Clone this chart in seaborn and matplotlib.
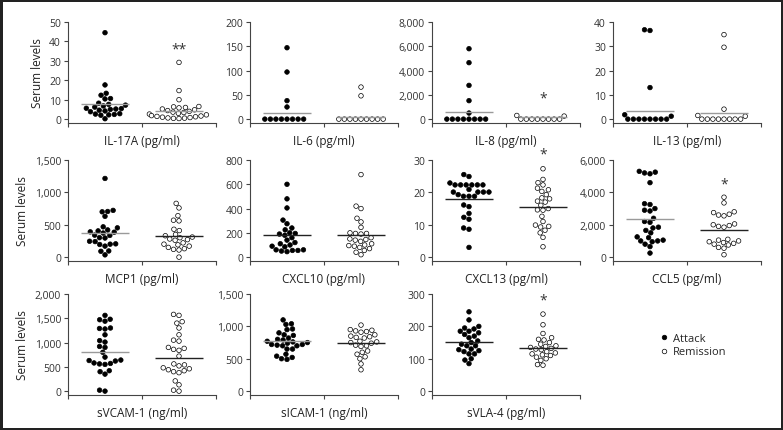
import warnings

warnings.filterwarnings("ignore")

import numpy as np
import pandas as pd
import seaborn as sns
import matplotlib

matplotlib.use("Agg")
import matplotlib.pyplot as plt
from matplotlib.lines import Line2D
from matplotlib.ticker import FuncFormatter, MultipleLocator

# ---- values ----
il17a_attack = [44.5, 17.6, 13.3, 12.3, 10.6, 10.4, 8.2, 7.6, 7.2, 6.8, 6.2, 5.6, 5.4,
                5.2, 5.0, 4.6, 4.2, 3.8, 2.8, 2.6, 2.4, 2.2, 2.0, 0.2]
il17a_remission = [29.2, 14.7, 10.0, 6.5, 6.3, 6.0, 5.8, 5.2, 4.8, 4.4, 4.0, 3.6, 3.4,
                   3.0, 2.6, 2.2, 1.8, 1.6, 1.4, 1.2, 1.0, 0.8, 0.6, 0.5, 0.4, 0.3]
il6_attack = [147, 97, 38, 25, 0, 0, 0, 0, 0, 0, 0, 0]
il6_remission = [66, 48, 0, 0, 0, 0, 0, 0, 0, 0, 0]
il8_attack = [5800, 4650, 2780, 1520, 500, 0, 0, 0, 0, 0, 0, 0, 0]
il8_remission = [300, 250, 0, 0, 0, 0, 0, 0, 0, 0]
il13_attack = [36.8, 36.5, 13.0, 1.8, 1.2, 0, 0, 0, 0, 0, 0, 0, 0]
il13_remission = [34.8, 29.6, 4.1, 1.5, 1.2, 0, 0, 0, 0, 0, 0, 0, 0]
mcp1_attack = [1215, 722, 705, 700, 630, 468, 452, 420, 405, 390, 385, 372, 340, 335,
               300, 295, 245, 240, 205, 200, 195, 170, 95, 90, 35]
mcp1_remission = [830, 760, 640, 570, 560, 430, 410, 350, 330, 310, 300, 280, 270, 260,
                  220, 200, 190, 170, 150, 130, 120, 110, 0]
cxcl10_attack = [600, 480, 405, 305, 275, 240, 225, 200, 195, 190, 180, 160, 140, 120,
                 110, 100, 90, 85, 60, 60, 55, 55, 50, 45]
cxcl10_remission = [680, 420, 400, 320, 290, 245, 200, 195, 195, 190, 160, 150, 145, 140,
                    130, 110, 100, 95, 90, 80, 70, 55, 40, 20]
cxcl13_attack = [25.5, 24.9, 22.9, 22.3, 22.3, 22.3, 22.3, 22.3, 22.3, 20.9, 20.1, 20.1,
                 20.1, 20.1, 19.3, 18.8, 18.8, 18.8, 16.1, 15.6, 13.5, 12.3, 11.7, 9.0,
                 8.6, 3.0]
cxcl13_remission = [27.3, 24.0, 23.0, 22.3, 21.3, 20.8, 20.3, 19.3, 18.3, 18.0, 17.3,
                    17.0, 16.0, 15.0, 14.6, 14.5, 12.6, 11.0, 9.9, 9.5, 9.3, 8.3, 7.5,
                    6.1, 3.2]
ccl5_attack = [5300, 5250, 5200, 5150, 4600, 3300, 3250, 3000, 2900, 2850, 2400, 2200,
               2150, 1850, 1800, 1650, 1500, 1250, 1200, 1050, 1000, 1000, 950, 800,
               650, 250]
ccl5_remission = [3700, 3350, 2800, 2750, 2650, 2600, 2550, 2050, 2000, 1950, 1900, 1850,
                  1100, 1050, 1000, 950, 900, 850, 800, 750, 600, 550, 150]
svcam_attack = [1560, 1480, 1470, 1440, 1300, 1290, 1280, 1160, 1040, 1010, 920, 900,
                800, 700, 640, 630, 620, 580, 570, 560, 550, 420, 400, 350, 20, 0]
svcam_remission = [1580, 1560, 1430, 1400, 1300, 1160, 1050, 1030, 900, 880, 860, 840,
                   720, 560, 540, 520, 480, 460, 440, 420, 400, 380, 210, 130, 20, 0]
sicam_attack = [1100, 1040, 1030, 960, 950, 900, 870, 860, 820, 800, 790, 770, 760, 750,
                740, 720, 720, 710, 700, 700, 650, 650, 570, 540, 520, 500, 490]
sicam_remission = [1020, 950, 940, 930, 920, 910, 870, 850, 840, 830, 820, 770, 760, 750,
                   740, 710, 700, 690, 620, 600, 570, 530, 500, 420, 330]
svla4_attack = [245, 220, 200, 195, 192, 185, 185, 180, 175, 170, 165, 155, 150, 145,
                140, 140, 130, 128, 125, 122, 115, 115, 100, 96, 85]
svla4_remission = [238, 205, 178, 165, 160, 158, 150, 145, 140, 138, 135, 132, 130, 128,
                   122, 118, 115, 112, 110, 105, 100, 95, 82, 80]

labels = ["IL-17A (pg/ml)", "IL-6 (pg/ml)", "IL-8 (pg/ml)", "IL-13 (pg/ml)",
          "MCP1 (pg/ml)", "CXCL10 (pg/ml)", "CXCL13 (pg/ml)", "CCL5 (pg/ml)",
          "sVCAM-1 (ng/ml)", "sICAM-1 (ng/ml)", "sVLA-4 (pg/ml)"]
attack = [il17a_attack, il6_attack, il8_attack, il13_attack, mcp1_attack, cxcl10_attack,
          cxcl13_attack, ccl5_attack, svcam_attack, sicam_attack, svla4_attack]
remission = [il17a_remission, il6_remission, il8_remission, il13_remission,
             mcp1_remission, cxcl10_remission, cxcl13_remission, ccl5_remission,
             svcam_remission, sicam_remission, svla4_remission]
attack_mean = [7.6, 12.2, 597, 3.25, 366, 182, 18.0, 2360, 800, 775, 151]
remission_mean = [4.2, 4.7, 190, 2.4, 320, 182, 15.4, 1668, 690, 750, 132]
y_max = [50, 200, 8000, 40, 1500, 800, 30, 6000, 2000, 1500, 300]
y_step = [10, 50, 2000, 10, 500, 200, 10, 2000, 500, 500, 100]
stars = {0: ("**", 36), 2: ("*", 1700), 6: ("*", 31.8), 7: ("*", 4500), 10: ("*", 283)}

groups = ["Attack", "Remission"]

# line shades (grey vs dark) as in the figure
attack_line = ["#9a9a9a"] * 5 + ["#222222", "#222222", "#9a9a9a", "#9a9a9a", "#9a9a9a", "#222222"]
remission_line = ["#9a9a9a"] * 4 + ["#222222"] * 7

W, H = 783, 431
col_left = [68, 250, 432, 613]
row_bottom = [124, 262, 396]
ax_w, ax_h = 148, 101

sns.set_style("ticks")
plt.rcParams["font.family"] = ["Open Sans", "DejaVu Sans"]

fig = plt.figure(figsize=(W / 100, H / 100), dpi=100)
fig.patch.set_edgecolor("#222222")
fig.patch.set_linewidth(2.5)

for i, label in enumerate(labels):
    r, c = divmod(i, 4)
    ax = fig.add_axes([col_left[c] / W, 1 - row_bottom[r] / H, ax_w / W, ax_h / H])
    df = pd.DataFrame(
        {
            "group": ["Attack"] * len(attack[i]) + ["Remission"] * len(remission[i]),
            "value": attack[i] + remission[i],
        }
    )
    sns.swarmplot(
        data=df,
        x="group",
        y="value",
        hue="group",
        order=groups,
        palette={"Attack": "black", "Remission": "white"},
        edgecolor="black",
        linewidth=0.5,
        size=3.3,
        legend=False,
        ax=ax,
    )
    for j, (m, col) in enumerate(
        [(attack_mean[i], attack_line[i]), (remission_mean[i], remission_line[i])]
    ):
        ax.hlines(m, j - 0.33, j + 0.33, color=col, lw=1.0, zorder=3)

    if i in stars:
        s, yv = stars[i]
        ax.text(1, yv, s, ha="center", va="center", fontsize=10, color="#333333")

    ax.set_xlim(-0.5, 1.5)
    ax.set_xticks([-0.5, 0.5, 1.5])
    ax.set_xticklabels([])
    ax.set_ylim(-0.04 * y_max[i], y_max[i])
    ax.yaxis.set_major_locator(MultipleLocator(y_step[i]))
    ax.yaxis.set_major_formatter(FuncFormatter(lambda v, p: f"{v:,.0f}"))
    ax.set_xlabel(label, fontsize=8.5, color="#222222", labelpad=3)
    if c == 0:
        ax.set_ylabel("Serum levels", fontsize=8.5, color="#222222", labelpad=4)
    else:
        ax.set_ylabel("")
    ax.tick_params(axis="both", length=3, width=0.8, color="#444444",
                   labelsize=7.5, labelcolor="#333333", pad=2)
    sns.despine(ax=ax)
    for sp in ["left", "bottom"]:
        ax.spines[sp].set_color("#444444")
        ax.spines[sp].set_linewidth(0.8)

handles = [
    Line2D([], [], marker="o", ls="", mfc="black", mec="black", ms=3.3, mew=0.5),
    Line2D([], [], marker="o", ls="", mfc="white", mec="black", ms=3.3, mew=0.5),
]
fig.legend(
    handles,
    groups,
    loc="center left",
    bbox_to_anchor=(650 / W, 1 - 346 / H),
    frameon=False,
    fontsize=8,
    handlelength=0.8,
    handletextpad=0.4,
    labelspacing=0.25,
)

fig.savefig("out.png", dpi=100)
